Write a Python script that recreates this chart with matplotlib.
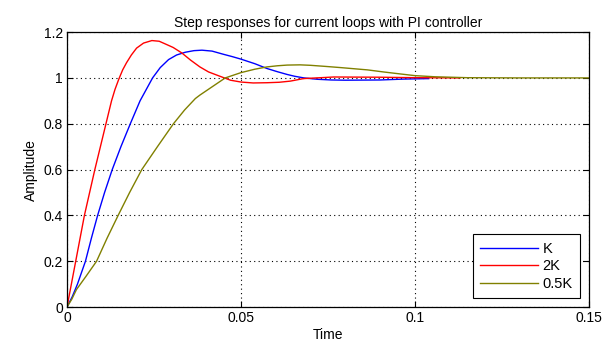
import matplotlib
matplotlib.use("Agg")
import matplotlib.pyplot as plt

plt.rcParams['font.family'] = ['Liberation Sans', 'DejaVu Sans']

# step responses
t_k = [0, 0.0015, 0.003, 0.0053, 0.007, 0.0088, 0.0108, 0.013, 0.0155, 0.0182,
       0.021, 0.0246, 0.0268, 0.0292, 0.0315, 0.034, 0.0365, 0.0388, 0.0417, 0.045,
       0.0475, 0.05, 0.054, 0.0575, 0.0605, 0.0633, 0.0655, 0.0681, 0.072, 0.076,
       0.08, 0.09, 0.097, 0.104]
y_k = [0, 0.045, 0.10, 0.2, 0.3, 0.4, 0.5, 0.6, 0.7, 0.8,
       0.9, 1.0, 1.045, 1.08, 1.10, 1.112, 1.119, 1.121, 1.117, 1.103,
       1.093, 1.082, 1.062, 1.041, 1.027, 1.015, 1.007, 1.0, 0.994, 0.991,
       0.99, 0.991, 0.995, 0.997]

t_2k = [0, 0.0025, 0.005, 0.0065, 0.008, 0.0096, 0.0112, 0.0128, 0.0138, 0.0149,
        0.016, 0.0171, 0.0185, 0.020, 0.022, 0.0244, 0.0265, 0.028, 0.0305, 0.033,
        0.0355, 0.0382, 0.0407, 0.044, 0.047, 0.05, 0.0535, 0.0575, 0.061, 0.0642,
        0.068, 0.0767, 0.09, 0.10, 0.113]
y_2k = [0, 0.2, 0.4, 0.5, 0.6, 0.7, 0.8, 0.9, 0.95, 0.995,
        1.035, 1.066, 1.10, 1.13, 1.152, 1.163, 1.16, 1.15, 1.133, 1.109,
        1.078, 1.048, 1.026, 1.007, 0.99, 0.982, 0.978, 0.979, 0.981, 0.986,
        0.997, 1.004, 1.003, 1.001, 1.0]

t_05k = [0, 0.0014, 0.0027, 0.0055, 0.0085, 0.0115, 0.0147, 0.018, 0.0215, 0.026,
         0.0306, 0.0338, 0.0369, 0.0382, 0.0417, 0.0455, 0.05, 0.054, 0.0575, 0.0605,
         0.0633, 0.067, 0.07, 0.0745, 0.0787, 0.0864, 0.091, 0.096, 0.1, 0.1057,
         0.115, 0.13, 0.15]
y_05k = [0, 0.035, 0.076, 0.135, 0.2, 0.3, 0.4, 0.5, 0.6, 0.7,
         0.8, 0.86, 0.91, 0.925, 0.961, 1.0, 1.023, 1.038, 1.048, 1.053,
         1.056, 1.057, 1.055, 1.05, 1.045, 1.035, 1.026, 1.017, 1.01, 1.005,
         1.001, 1.0, 1.0]

labels = ["K", "2K", "0.5K"]
colors = ["#0000ff", "#ff0000", "#808000"]

fig = plt.figure(figsize=(6.12, 3.45), dpi=100)
ax = fig.add_axes([0.1095, 0.110, 0.8525, 0.797])

ax.plot(t_k, y_k, color=colors[0], lw=1.0, label=labels[0])
ax.plot(t_2k, y_2k, color=colors[1], lw=1.0, label=labels[1])
ax.plot(t_05k, y_05k, color=colors[2], lw=1.0, label=labels[2])

ax.set_xlim(0, 0.15)
ax.set_ylim(0, 1.2)
ax.set_xticks([0, 0.05, 0.1, 0.15])
ax.set_xticklabels(["0", "0.05", "0.1", "0.15"])
ax.set_yticks([0, 0.2, 0.4, 0.6, 0.8, 1, 1.2])
ax.set_yticklabels(["0", "0.2", "0.4", "0.6", "0.8", "1", "1.2"])
ax.tick_params(direction='in', top=True, right=True, labelsize=10, length=4, width=0.8, pad=3)
ax.grid(True, color='black', linestyle=(0, (1, 3)), linewidth=0.8)
for s in ax.spines.values():
    s.set_linewidth(0.9)

ax.set_title("Step responses for current loops with PI controller", fontsize=10, pad=4)
ax.set_xlabel("Time", fontsize=10, labelpad=2)
ax.set_ylabel("Amplitude", fontsize=10, labelpad=4)

leg = ax.legend(loc='lower right', fontsize=10.5, handlelength=4.0, handletextpad=0.3,
                borderaxespad=0.6, labelspacing=0.25, fancybox=False, framealpha=1,
                edgecolor='black', borderpad=0.5)
leg.get_frame().set_linewidth(0.8)

fig.savefig("out.png", dpi=100)
